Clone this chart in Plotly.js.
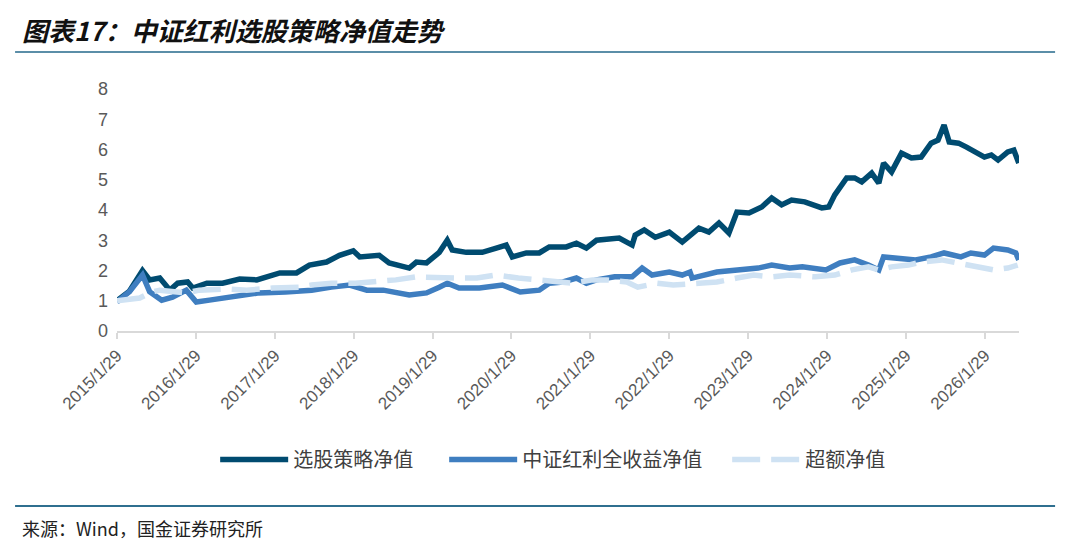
<!DOCTYPE html>
<html>
<head>
<meta charset="utf-8">
<script src="https://cdn.plot.ly/plotly-3.0.1.min.js"></script>
<style>
  html, body { margin: 0; padding: 0; background: #fff; }
  #plot { width: 1080px; height: 548px; }
</style>
</head>
<body>
<div id="plot"></div>
<script>
// values
const strategyDates = ['2015-01-29','2015-03-28','2015-05-27','2015-06-29','2015-08-15','2015-10-01','2015-11-06','2015-12-22',
  '2016-01-15','2016-03-20','2016-06-01','2016-08-19','2016-11-06','2017-02-21','2017-05-09','2017-07-08','2017-09-25',
  '2017-11-24','2018-01-27','2018-02-26','2018-05-27','2018-07-12','2018-10-13','2018-11-15','2019-01-01','2019-03-01',
  '2019-04-07','2019-04-30','2019-07-04','2019-09-16','2019-11-20','2020-01-05','2020-02-02','2020-04-07','2020-06-06',
  '2020-07-22','2020-10-09','2020-11-25','2021-01-10','2021-02-26','2021-06-11','2021-08-10','2021-08-24','2021-10-05',
  '2021-11-25','2022-01-29','2022-03-30','2022-06-15','2022-07-31','2022-09-16','2022-11-01','2022-12-08','2023-02-02',
  '2023-04-02','2023-05-18','2023-07-03','2023-08-18','2023-10-18','2024-01-05','2024-02-06','2024-03-05','2024-04-29',
  '2024-06-05','2024-07-08','2024-08-23','2024-09-25','2024-10-17','2024-11-23','2025-01-08','2025-02-23','2025-04-09',
  '2025-05-25','2025-06-26','2025-07-24','2025-08-17','2025-09-29','2025-11-05','2025-12-20','2026-01-27','2026-02-28',
  '2026-03-31','2026-05-15','2026-06-12','2026-07-05'];
const strategyValues = [1.00,1.32,2.00,1.69,1.75,1.35,1.58,1.62,
  1.42,1.58,1.58,1.72,1.69,1.92,1.92,2.18,2.28,
  2.50,2.65,2.45,2.50,2.25,2.08,2.28,2.25,2.60,
  3.00,2.68,2.60,2.60,2.74,2.84,2.45,2.58,2.58,
  2.78,2.78,2.90,2.74,3.00,3.07,2.84,3.17,3.34,
  3.10,3.27,2.94,3.40,3.27,3.57,3.24,3.93,3.90,
  4.10,4.40,4.17,4.33,4.27,4.07,4.10,4.50,5.06,
  5.06,4.93,5.22,4.89,5.55,5.26,5.88,5.72,5.75,
  6.21,6.31,6.81,6.25,6.21,6.08,5.88,5.75,5.82,
  5.65,5.92,5.98,5.55];

const indexDates = ['2015-01-29','2015-03-28','2015-05-27','2015-06-29','2015-08-24','2015-10-13','2015-12-16','2016-01-31',
  '2016-04-01','2016-07-17','2016-11-16','2017-03-19','2017-07-18','2017-10-18','2017-12-22','2018-01-10','2018-03-31',
  '2018-06-15','2018-10-13','2019-01-01','2019-03-01','2019-04-07','2019-06-01','2019-09-03','2019-12-18','2020-01-17',
  '2020-03-10','2020-06-06','2020-07-22','2020-09-24','2020-11-25','2021-01-10','2021-02-26','2021-05-21','2021-08-10',
  '2021-09-25','2021-11-10','2022-01-29','2022-03-30','2022-05-05','2022-05-15','2022-09-06','2022-12-28','2023-03-16',
  '2023-05-18','2023-08-09','2023-10-07','2024-01-24','2024-03-29','2024-06-05','2024-08-08','2024-09-25','2024-10-17',
  '2024-12-25','2025-03-14','2025-05-25','2025-07-24','2025-10-10','2025-11-25','2026-01-27','2026-03-10','2026-05-15',
  '2026-06-21','2026-07-05'];
const indexValues = [0.96,1.30,1.85,1.30,1.02,1.12,1.35,0.96,
  1.02,1.12,1.26,1.29,1.35,1.45,1.52,1.52,1.35,
  1.35,1.19,1.26,1.45,1.58,1.42,1.42,1.52,1.45,
  1.29,1.35,1.58,1.62,1.75,1.58,1.69,1.79,1.79,
  2.08,1.85,1.95,1.85,1.95,1.75,1.95,2.02,2.08,
  2.18,2.08,2.12,2.02,2.25,2.35,2.18,2.02,2.45,
  2.41,2.35,2.45,2.58,2.45,2.58,2.51,2.74,2.68,
  2.58,2.35];

const excessDates = ['2015-01-29','2015-05-14','2015-07-08','2015-08-15','2015-12-16','2016-02-14','2016-06-19','2016-09-20',
  '2017-01-19','2017-05-23','2017-07-18','2017-10-18','2018-02-06','2018-04-22','2018-08-12','2018-11-15','2019-02-15',
  '2019-05-20','2019-08-22','2019-11-20','2020-03-01','2020-06-06','2020-08-24','2020-11-07','2021-02-08','2021-04-14',
  '2021-07-16','2021-09-05','2021-12-04','2022-02-16','2022-06-15','2022-09-06','2022-12-08','2023-02-24','2023-05-18',
  '2023-08-09','2023-12-06','2024-03-05','2024-05-24','2024-08-08','2024-09-25','2024-11-23','2025-02-09','2025-04-09',
  '2025-07-13','2025-09-10','2025-11-12','2026-01-13','2026-03-10','2026-05-15','2026-06-30'];
const excessValues = [1.00,1.09,1.29,1.35,1.26,1.35,1.39,1.35,
  1.42,1.45,1.52,1.58,1.58,1.62,1.69,1.79,1.75,
  1.75,1.75,1.85,1.75,1.69,1.62,1.58,1.69,1.69,
  1.62,1.45,1.58,1.52,1.58,1.62,1.75,1.85,1.79,
  1.85,1.79,1.85,2.02,2.12,2.02,2.12,2.18,2.28,
  2.35,2.28,2.18,2.12,2.02,2.08,2.18];

const seriesNames = ['选股策略净值', '中证红利全收益净值', '超额净值'];
const tickDates = ['2015-01-29','2016-01-29','2017-01-29','2018-01-29','2019-01-29','2020-01-29',
  '2021-01-29','2022-01-29','2023-01-29','2024-01-29','2025-01-29','2026-01-29'];
const tickLabels = ['2015/1/29','2016/1/29','2017/1/29','2018/1/29','2019/1/29','2020/1/29',
  '2021/1/29','2022/1/29','2023/1/29','2024/1/29','2025/1/29','2026/1/29'];

const cjk = '"Noto Sans CJK SC", "Noto Sans", sans-serif';
const latin = '"Liberation Sans", Arial, sans-serif';

const traces = [
  { x: strategyDates, y: strategyValues, name: seriesNames[0], mode: 'lines',
    legendwidth: 146,
    line: { color: '#004b70', width: 5.5 } },
  { x: indexDates, y: indexValues, name: seriesNames[1], mode: 'lines',
    legendwidth: 200,
    line: { color: '#3f7ec0', width: 5.5 } },
  { x: excessDates, y: excessValues, name: seriesNames[2], mode: 'lines',
    line: { color: '#cfe2f3', width: 5.5, dash: '28px,11px' } }
];

const layout = {
  width: 1080, height: 548,
  margin: { l: 117, r: 61, t: 89, b: 217 },
  paper_bgcolor: '#fff', plot_bgcolor: '#fff',
  showlegend: true,
  legend: {
    orientation: 'h', x: 0.483, xanchor: 'center', y: -0.45, yanchor: 'top',
    font: { family: cjk, size: 20, color: '#404040' },
    itemwidth: 68
  },
  xaxis: {
    type: 'date',
    range: ['2015-01-29', '2026-07-06'],
    tickvals: tickDates, ticktext: tickLabels,
    tickangle: -45,
    tickfont: { family: latin, size: 17, color: '#595959' },
    ticks: 'outside', ticklen: 6, tickcolor: '#d9d9d9', tickwidth: 2,
    showline: true, linecolor: '#d9d9d9', linewidth: 2,
    showgrid: false, zeroline: false
  },
  yaxis: {
    range: [0, 8], dtick: 1,
    tickfont: { family: latin, size: 18, color: '#595959' },
    showgrid: false, zeroline: false, showline: false,
    ticklabelstandoff: 8
  },
  shapes: [
    { type: 'line', xref: 'paper', yref: 'paper', x0: -0.113, x1: 1.04, y0: 1.153, y1: 1.153,
      line: { color: '#5b8ea8', width: 2 } },
    { type: 'line', xref: 'paper', yref: 'paper', x0: -0.113, x1: 1.04, y0: -0.723, y1: -0.723,
      line: { color: '#2f6f8f', width: 2 } }
  ],
  annotations: [
    { xref: 'paper', yref: 'paper', x: -0.108, y: 1.245, xanchor: 'left', yanchor: 'middle',
      showarrow: false, text: '<b><i>图表17：中证红利选股策略净值走势</i></b>',
      font: { family: cjk, size: 26, color: '#111' } },
    { xref: 'paper', yref: 'paper', x: -0.108, y: -0.816, xanchor: 'left', yanchor: 'middle',
      showarrow: false, text: '来源：Wind，国金证券研究所',
      font: { family: cjk, size: 18, color: '#222' } }
  ]
};

Plotly.newPlot('plot', traces, layout, { displayModeBar: false, staticPlot: true });
</script>
</body>
</html>
